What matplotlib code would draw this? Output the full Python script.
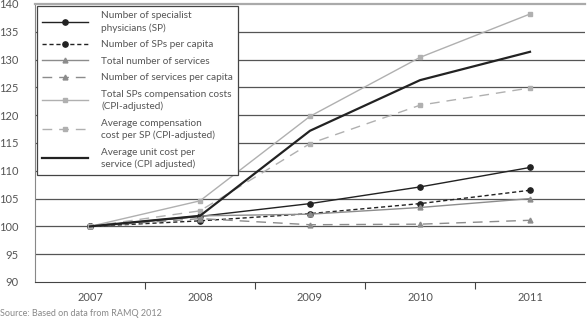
import matplotlib.pyplot as plt
import numpy as np

years = ['2007', '2008', '2009', '2010', '2011']

sp_number = [100, 101.8, 104.1, 107.1, 110.6]
sp_per_capita = [100, 101.0, 102.3, 104.1, 106.5]
services_total = [100, 101.9, 102.2, 103.4, 105.0]
services_per_capita = [100, 101.4, 100.3, 100.4, 101.1]
comp_total = [100, 104.6, 119.8, 130.4, 138.2]
comp_per_sp = [100, 102.8, 114.9, 121.8, 124.9]
unit_cost = [100, 101.9, 117.2, 126.3, 131.4]

labels = [
    'Number of specialist\nphysicians (SP)',
    'Number of SPs per capita',
    'Total number of services',
    'Number of services per capita',
    'Total SPs compensation costs\n(CPI-adjusted)',
    'Average compensation\ncost per SP (CPI-adjusted)',
    'Average unit cost per\nservice (CPI adjusted)',
]

plt.rcParams['font.family'] = ['Lato', 'DejaVu Sans']

fig = plt.figure(figsize=(5.88, 3.21), dpi=100)
ax = fig.add_axes([35 / 588, 1 - 282 / 321, 550 / 588, 278 / 321])

x = np.arange(len(years))
black = '#222222'
gray = '#8c8c8c'
light = '#b0b0b0'

ax.plot(x, sp_number, color=black, lw=1.0, marker='o', ms=3.8, label=labels[0])
ax.plot(x, sp_per_capita, color=black, lw=1.0, ls=(0, (3, 2)), marker='o', ms=3.8, label=labels[1])
ax.plot(x, services_total, color=gray, lw=1.0, marker='^', ms=3.5, label=labels[2])
ax.plot(x, services_per_capita, color=gray, lw=1.0, ls=(0, (7, 5)), marker='^', ms=3.5, label=labels[3])
ax.plot(x, comp_total, color=light, lw=1.0, marker='s', ms=3.5, label=labels[4])
ax.plot(x, comp_per_sp, color=light, lw=1.0, ls=(0, (7, 5)), marker='s', ms=3.5, label=labels[5])
ax.plot(x, unit_cost, color=black, lw=1.6, label=labels[6])

ax.set_xlim(-0.5, 4.5)
ax.set_ylim(90, 140)
ax.set_yticks(np.arange(90, 141, 5))
ax.set_xticks(x)
ax.set_xticklabels(years)
ax.set_xticks(np.arange(0.5, 4, 1), minor=True)
ax.tick_params(axis='both', which='major', length=0, labelsize=8, colors='#555555', pad=7)
ax.tick_params(axis='x', which='minor', length=5, color='#444444', width=0.8, direction='out')
ax.tick_params(axis='y', pad=12)

for v in np.arange(95, 140, 5):
    ax.axhline(v, color='#555555', lw=0.9, zorder=0)

ax.spines['right'].set_visible(False)
ax.spines['top'].set_color('#aaaaaa')
ax.spines['top'].set_linewidth(1.6)
ax.spines['left'].set_color('#888888')
ax.spines['bottom'].set_color('#444444')

leg = ax.legend(loc='upper left', bbox_to_anchor=(0.0, 1.0), fontsize=7.2,
                handlelength=4.6, handletextpad=1.3, labelspacing=0.75,
                borderaxespad=0.15, borderpad=0.55, fancybox=False, framealpha=1)
leg.get_frame().set_edgecolor('#444444')
leg.get_frame().set_linewidth(0.9)
for t in leg.get_texts():
    t.set_color('#555555')
    t.set_linespacing(1.4)

fig.text(0.0, 3 / 321, 'Source: Based on data from RAMQ 2012', fontsize=6.5,
         color='#888888', va='bottom', ha='left')

fig.savefig('out.png', dpi=100)
